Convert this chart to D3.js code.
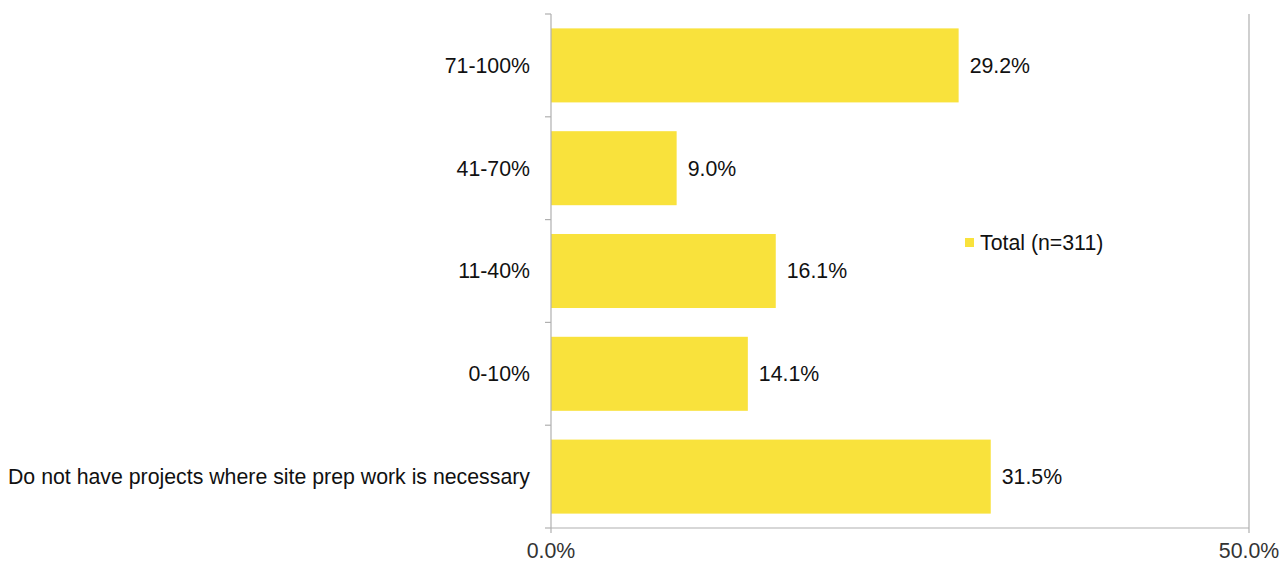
<!DOCTYPE html>
<html><head><meta charset="utf-8">
<script src="https://cdn.jsdelivr.net/npm/d3@7"></script>
<style>body{margin:0;background:#fff}svg{display:block}text{font-family:"Liberation Sans",Arial,sans-serif}</style>
</head><body><div id="c"></div>
<script>
const categories = ["71-100%","41-70%","11-40%","0-10%","Do not have projects where site prep work is necessary"];
const values = [29.2, 9.0, 16.1, 14.1, 31.5];
const xTicks = [0, 50];
const seriesName = "Total (n=311)";

(function(){
const W = 1283, H = 562;
const mLeft = 551, mRight = 1249, mTop = 14, mBottom = 528;
const fs = 21.3;
const svg = d3.select("#c").append("svg").attr("width", W).attr("height", H);
const x = d3.scaleLinear().domain([0, 50]).range([mLeft, mRight]);
const y = d3.scaleBand().domain(categories).range([mTop, mBottom]).paddingInner(0.28).paddingOuter(0.14);
const axisColor = "#b0b0b0";

svg.append("line").attr("x1", x(50)).attr("x2", x(50)).attr("y1", mTop).attr("y2", mBottom + 5)
  .attr("stroke", axisColor).attr("stroke-width", 1.2);

svg.selectAll("rect.bar").data(values).join("rect").attr("class","bar")
  .attr("x", x(0)).attr("y", (d,i)=>y(categories[i])).attr("width", d=>x(d)-x(0))
  .attr("height", y.bandwidth()).attr("fill", "#F9E23C");

svg.append("line").attr("x1", mLeft).attr("x2", mLeft).attr("y1", mTop).attr("y2", mBottom + 5).attr("stroke", axisColor).attr("stroke-width", 1.2);
svg.append("line").attr("x1", mLeft).attr("x2", mRight).attr("y1", mBottom).attr("y2", mBottom).attr("stroke", axisColor).attr("stroke-width", 1.2);
const step = y.step();
d3.range(categories.length + 1).forEach(i => {
  const yy = mTop + i * step;
  svg.append("line").attr("x1", mLeft - 6).attr("x2", mLeft).attr("y1", yy).attr("y2", yy).attr("stroke", axisColor).attr("stroke-width", 1.2);
});

svg.selectAll("text.cat").data(categories).join("text").attr("class","cat")
  .attr("x", 530).attr("y", d=>y(d)+y.bandwidth()/2).attr("dy","0.35em")
  .attr("text-anchor","end").attr("font-size", fs).attr("fill","#111").text(d=>d);

svg.selectAll("text.val").data(values).join("text").attr("class","val")
  .attr("x", d=>x(d)+11).attr("y", (d,i)=>y(categories[i])+y.bandwidth()/2).attr("dy","0.35em")
  .attr("font-size", fs).attr("fill","#111").text(d=>d.toFixed(1)+"%");

svg.selectAll("text.xt").data(xTicks).join("text").attr("class","xt")
  .attr("x", d=>x(d)).attr("y", 558).attr("text-anchor","middle")
  .attr("font-size", fs).attr("fill","#333").text(d=>d.toFixed(1)+"%");

svg.append("rect").attr("x", 965).attr("y", 238).attr("width", 9).attr("height", 9).attr("fill", "#F9E23C");
svg.append("text").attr("x", 980).attr("y", 243).attr("dy","0.35em").attr("font-size", fs).attr("fill","#111").text(seriesName);
})();
</script></body></html>
